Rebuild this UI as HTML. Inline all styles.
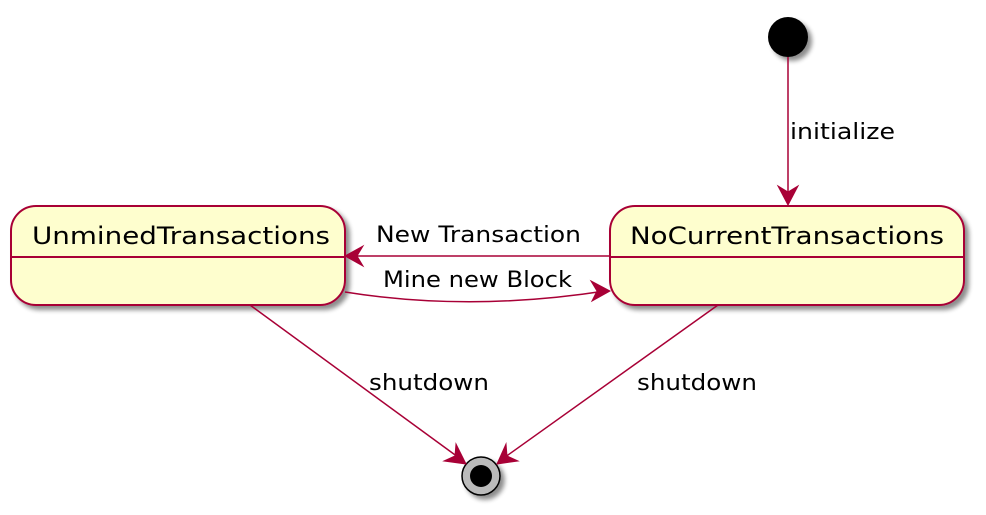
<!DOCTYPE html>
<html><head><meta charset="utf-8"><style>
html,body{margin:0;padding:0;background:#fff;}
svg{display:block;}
text{font-family:"DejaVu Sans","Liberation Sans",sans-serif;fill:#000;}
</style></head><body>
<svg width="986" height="515" viewBox="0 0 986 515" xmlns="http://www.w3.org/2000/svg">
<defs>
<filter id="sh" x="-20%" y="-20%" width="150%" height="150%">
<feGaussianBlur in="SourceAlpha" stdDeviation="2.5"/>
<feOffset dx="4" dy="4" result="b"/>
<feComponentTransfer><feFuncA type="linear" slope="0.45"/></feComponentTransfer>
<feMerge><feMergeNode/><feMergeNode in="SourceGraphic"/></feMerge>
</filter>
</defs>
<circle cx="788" cy="37" r="20" fill="#000" filter="url(#sh)"/>
<rect x="11" y="206" width="334" height="99" rx="25" fill="#FEFECE" stroke="#A80036" stroke-width="2" filter="url(#sh)"/>
<line x1="11" y1="257" x2="345" y2="257" stroke="#A80036" stroke-width="2"/>
<text x="32" y="244" font-size="24" textLength="298" lengthAdjust="spacingAndGlyphs">UnminedTransactions</text>
<rect x="610" y="206" width="354" height="99" rx="25" fill="#FEFECE" stroke="#A80036" stroke-width="2" filter="url(#sh)"/>
<line x1="610" y1="257" x2="964" y2="257" stroke="#A80036" stroke-width="2"/>
<text x="630" y="244" font-size="24" textLength="314" lengthAdjust="spacingAndGlyphs">NoCurrentTransactions</text>
<circle cx="481" cy="476" r="19" fill="#bbb" stroke="#000" stroke-width="1.5" filter="url(#sh)"/>
<circle cx="481" cy="476" r="11" fill="#000"/>
<g stroke="#A80036" stroke-width="1.5" fill="none">
<line x1="788" y1="57" x2="788" y2="200"/>
<line x1="610" y1="256" x2="350" y2="256"/>
<path d="M345,292 Q470,312 605,291"/>
<line x1="250" y1="305" x2="462" y2="460"/>
<line x1="718" y1="305" x2="501" y2="460"/>
</g>
<g fill="#A80036" stroke="#A80036" stroke-width="1">
<polygon points="778,186 788,205 798,186 788,192"/>
<polygon points="363,246 345,256 363,266 357,256"/>
<polygon points="591,281 610,291 592,301 597,291"/>
<polygon points="444,461 466,464 456,444 455,456"/>
<polygon points="506,444 497,464 518,461 507,456"/>
</g>
<text x="790" y="139" font-size="22" textLength="105" lengthAdjust="spacingAndGlyphs">initialize</text>
<text x="376" y="242" font-size="22" textLength="205" lengthAdjust="spacingAndGlyphs">New Transaction</text>
<text x="383" y="287" font-size="22" textLength="189" lengthAdjust="spacingAndGlyphs">Mine new Block</text>
<text x="369" y="390" font-size="22" textLength="120" lengthAdjust="spacingAndGlyphs">shutdown</text>
<text x="637" y="390" font-size="22" textLength="120" lengthAdjust="spacingAndGlyphs">shutdown</text>
</svg>
</body></html>
